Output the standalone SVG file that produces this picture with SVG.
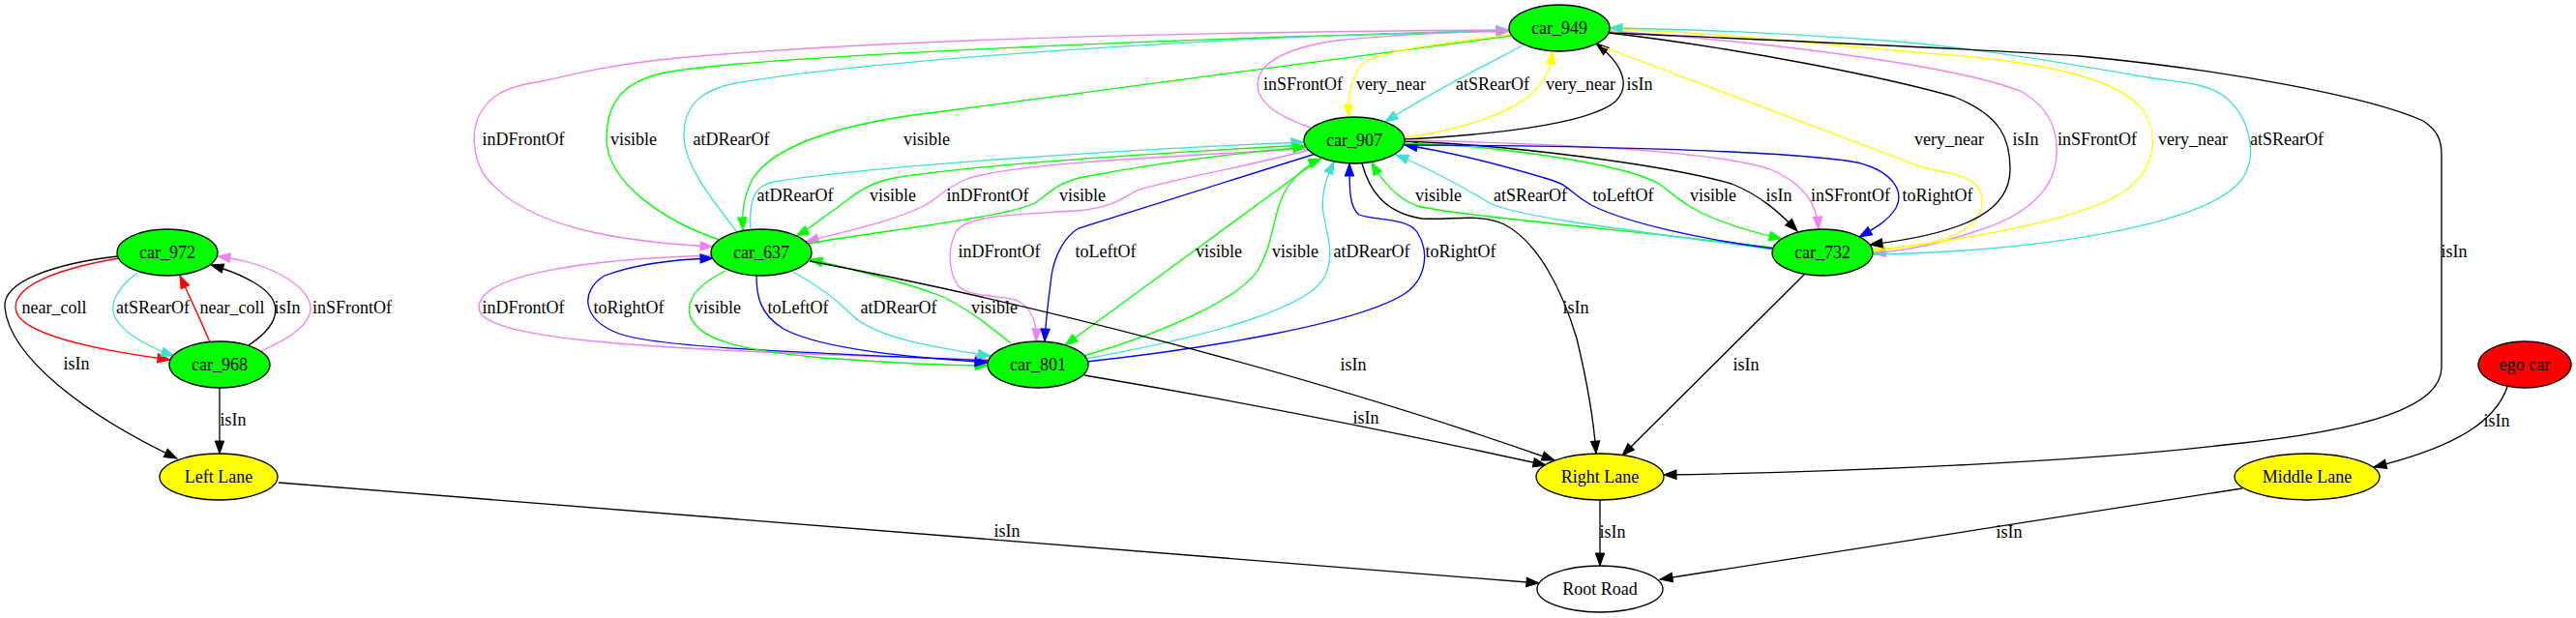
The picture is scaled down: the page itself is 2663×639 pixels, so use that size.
<svg xmlns="http://www.w3.org/2000/svg" width="2663" height="639" viewBox="0 0 2663 639">
<defs>
<style>
.e{fill:none;stroke-width:1.33}
.k{stroke:#000;marker-end:url(#ak)}
.g{stroke:#00ff00;marker-end:url(#ag)}
.c{stroke:#40e0d0;marker-end:url(#ac)}
.v{stroke:#ee82ee;marker-end:url(#av)}
.b{stroke:#0000ff;marker-end:url(#ab)}
.y{stroke:#ffff00;marker-end:url(#ay)}
.r{stroke:#ff0000;marker-end:url(#ar)}
.n{stroke:#000;stroke-width:1.33}
.t{font-family:"Liberation Serif","Times New Roman",Times,serif;font-size:18px;text-anchor:middle;fill:#000}
</style>
<marker id="ak" markerUnits="userSpaceOnUse" markerWidth="14" markerHeight="10" refX="13" refY="5" orient="auto" overflow="visible"><path d="M0,0.3 L13,5 L0,9.7 Z" fill="#000" stroke="#000"/></marker>
<marker id="ag" markerUnits="userSpaceOnUse" markerWidth="14" markerHeight="10" refX="13" refY="5" orient="auto" overflow="visible"><path d="M0,0.3 L13,5 L0,9.7 Z" fill="#00ff00" stroke="#00ff00"/></marker>
<marker id="ac" markerUnits="userSpaceOnUse" markerWidth="14" markerHeight="10" refX="13" refY="5" orient="auto" overflow="visible"><path d="M0,0.3 L13,5 L0,9.7 Z" fill="#40e0d0" stroke="#40e0d0"/></marker>
<marker id="av" markerUnits="userSpaceOnUse" markerWidth="14" markerHeight="10" refX="13" refY="5" orient="auto" overflow="visible"><path d="M0,0.3 L13,5 L0,9.7 Z" fill="#ee82ee" stroke="#ee82ee"/></marker>
<marker id="ab" markerUnits="userSpaceOnUse" markerWidth="14" markerHeight="10" refX="13" refY="5" orient="auto" overflow="visible"><path d="M0,0.3 L13,5 L0,9.7 Z" fill="#0000ff" stroke="#0000ff"/></marker>
<marker id="ay" markerUnits="userSpaceOnUse" markerWidth="14" markerHeight="10" refX="13" refY="5" orient="auto" overflow="visible"><path d="M0,0.3 L13,5 L0,9.7 Z" fill="#ffff00" stroke="#ffff00"/></marker>
<marker id="ar" markerUnits="userSpaceOnUse" markerWidth="14" markerHeight="10" refX="13" refY="5" orient="auto" overflow="visible"><path d="M0,0.3 L13,5 L0,9.7 Z" fill="#ff0000" stroke="#ff0000"/></marker>
</defs>
<rect width="2663" height="639" fill="#fff"/>
<g id="connectors">
<!-- left cluster -->
<path class="e r" d="M123,267 C70,276 16,292 16,318 C16,345 100,362 176,372"/>
<path class="e c" d="M142,282 C125,295 115,308 117,322 C120,340 150,358 180,368"/>
<path class="e r" d="M217,354 C208,332 195,305 186,285"/>
<path class="e k" d="M257,357 C275,345 288,330 284,315 C280,298 250,283 218,274"/>
<path class="e v" d="M270,363 C300,350 322,335 321,318 C319,295 280,272 225,265"/>
<path class="e k" d="M122,265 C60,272 2,290 5,318 C10,370 90,430 183,474"/>
<path class="e k" d="M227,401 L227,469"/>
<path class="e k" d="M288,499 L1591,603"/>
<!-- car_949 <-> car_637 -->
<path class="e v" d="M1560,31 C1200,33 900,42 700,60 C620,68 590,78 560,84 C520,90 505,100 495,120 C488,135 488,160 500,180 C540,235 640,250 737,255"/>
<path class="e g" d="M744,248 C690,230 627,190 627,143 C627,100 650,80 700,73 C800,58 1200,40 1560,32"/>
<path class="e c" d="M762,240 C735,205 707,170 707,140 C707,105 730,92 760,86 C900,62 1250,38 1560,31"/>
<path class="e g" d="M1562,37 C1350,65 1100,100 960,117 C870,128 800,150 778,185 C768,205 767,220 768,238"/>
<!-- car_907 <-> car_637 -->
<path class="e c" d="M776,238 C774,205 780,192 800,188 C900,172 1150,155 1348,147"/>
<path class="e g" d="M1349,150 C1200,158 1000,170 920,185 C890,192 880,205 865,215 C850,225 838,236 823,244"/>
<path class="e v" d="M1350,154 C1200,162 1040,170 1000,185 C975,195 970,205 955,213 C920,230 870,240 833,250"/>
<path class="e g" d="M835,252 C900,240 1040,225 1070,210 C1085,200 1090,190 1120,183 C1200,168 1280,158 1350,152"/>
<!-- car_907 <-> car_801 -->
<path class="e v" d="M1353,155 C1290,172 1200,188 1175,197 C1160,205 1150,215 1110,218 C1050,222 1000,222 988,240 C980,255 980,280 990,295 C1000,307 1030,305 1050,310 C1068,318 1072,335 1071,353"/>
<path class="e b" d="M1360,159 L1115,236 C1100,245 1090,265 1087,285 C1084,310 1081,330 1080,353"/>
<path class="e g" d="M1362,166 L1101,357"/>
<path class="e g" d="M1120,368 C1200,345 1280,310 1300,280 C1318,250 1315,220 1330,195 C1340,180 1352,170 1366,164"/>
<path class="e c" d="M1122,371 C1250,348 1355,318 1370,285 C1380,262 1372,245 1368,220 C1365,200 1372,182 1379,167"/>
<path class="e b" d="M1123,374 C1250,360 1400,335 1450,305 C1475,290 1478,260 1465,240 C1455,225 1420,228 1405,222 C1395,215 1395,195 1395,169"/>
<!-- car_637 <-> car_801 -->
<path class="e v" d="M737,264 C600,268 495,285 495,318 C495,350 650,362 1021,372"/>
<path class="e b" d="M1021,373 C850,365 680,360 640,345 C600,330 600,300 625,285 C660,272 700,268 737,267"/>
<path class="e g" d="M750,280 C720,295 710,310 713,325 C720,350 760,362 850,370 C920,375 980,378 1021,378"/>
<path class="e b" d="M782,285 C782,305 785,325 810,340 C850,362 950,370 1021,375"/>
<path class="e c" d="M818,280 C840,292 860,305 880,325 C905,350 970,360 1024,368"/>
<path class="e g" d="M1045,355 C1020,335 995,315 970,305 C930,290 880,278 837,268"/>
<!-- car_907 <-> car_949 -->
<path class="e v" d="M1355,132 C1320,120 1300,105 1300,88 C1300,65 1330,50 1380,42 C1450,35 1510,33 1560,32"/>
<path class="e y" d="M1561,36 C1490,45 1430,52 1410,65 C1396,77 1394,100 1394,121"/>
<path class="e c" d="M1574,47 C1540,65 1480,95 1432,126"/>
<path class="e y" d="M1452,142 C1510,135 1570,115 1590,90 C1600,78 1603,68 1605,53"/>
<path class="e k" d="M1452,144 C1530,140 1640,130 1670,105 C1685,90 1680,68 1650,45"/>
<!-- car_907 <-> car_732 -->
<path class="e g" d="M1833,256 C1700,240 1500,222 1465,213 C1445,205 1430,190 1418,168"/>
<path class="e c" d="M1833,258 C1700,240 1570,225 1540,210 C1515,195 1480,175 1443,160"/>
<path class="e b" d="M1834,257 C1760,248 1680,230 1645,212 C1620,198 1625,192 1600,185 C1550,170 1500,157 1452,150"/>
<path class="e g" d="M1452,148 C1550,150 1680,170 1715,190 C1735,205 1745,215 1770,225 C1795,235 1820,242 1842,247"/>
<path class="e k" d="M1452,146 C1560,150 1720,170 1790,190 C1820,202 1840,220 1858,239"/>
<path class="e v" d="M1452,145 C1600,148 1770,155 1830,175 C1865,190 1878,210 1880,237"/>
<path class="e b" d="M1452,150 C1600,150 1850,155 1920,168 C1960,178 1968,200 1960,215 C1952,228 1940,235 1922,245"/>
<!-- car_949 <-> car_732 -->
<path class="e y" d="M1656,48 L1985,172 C2010,180 2040,178 2048,200 C2055,225 2030,245 1990,252 C1970,255 1955,257 1936,258"/>
<path class="e k" d="M1663,34 C1800,50 1950,80 2020,100 C2070,120 2078,145 2078,175 C2078,215 2040,240 1933,253"/>
<path class="e v" d="M1663,32 C1850,45 2030,70 2090,95 C2120,112 2127,135 2126,160 C2124,200 2090,225 2040,240 C2010,250 1980,258 1936,262"/>
<path class="e y" d="M1935,260 C2050,245 2160,225 2200,195 C2232,170 2232,130 2210,108 C2180,78 2100,62 1990,55 C1880,45 1750,32 1664,30"/>
<path class="e c" d="M1936,263 C2100,260 2280,235 2318,185 C2335,160 2325,120 2300,100 C2280,85 2250,85 2220,80 C2150,68 2050,50 1950,42 C1850,35 1750,30 1664,29"/>
<!-- to lanes / road -->
<path class="e k" d="M1664,34 C1800,40 2000,48 2150,58 C2300,72 2450,100 2505,125 C2520,135 2524,145 2524,160 L2524,380 C2524,420 2450,445 2300,460 C2150,478 1900,488 1720,491"/>
<path class="e k" d="M1408,169 C1415,195 1430,220 1470,226 C1500,228 1530,220 1555,232 C1590,250 1615,300 1630,350 C1642,400 1648,440 1650,469"/>
<path class="e k" d="M1865,284 L1677,471"/>
<path class="e k" d="M837,270 C1050,310 1350,385 1607,476"/>
<path class="e k" d="M1121,388 C1300,418 1480,455 1598,481"/>
<path class="e k" d="M2592,400 C2580,435 2540,462 2454,483"/>
<path class="e k" d="M2318,505 L1716,599"/>
<path class="e k" d="M1654,517 L1654,585"/>
<!-- edge labels -->
<text class="t" x="56" y="324">near_coll</text>
<text class="t" x="158" y="324">atSRearOf</text>
<text class="t" x="240" y="324">near_coll</text>
<text class="t" x="297" y="324">isIn</text>
<text class="t" x="364" y="324">inSFrontOf</text>
<text class="t" x="79" y="382">isIn</text>
<text class="t" x="241" y="440">isIn</text>
<text class="t" x="541" y="150">inDFrontOf</text>
<text class="t" x="655" y="150">visible</text>
<text class="t" x="756" y="150">atDRearOf</text>
<text class="t" x="958" y="150">visible</text>
<text class="t" x="1347" y="93">inSFrontOf</text>
<text class="t" x="1438" y="93">very_near</text>
<text class="t" x="1543" y="93">atSRearOf</text>
<text class="t" x="1634" y="93">very_near</text>
<text class="t" x="1695" y="93">isIn</text>
<text class="t" x="2015" y="150">very_near</text>
<text class="t" x="2094" y="150">isIn</text>
<text class="t" x="2168" y="150">inSFrontOf</text>
<text class="t" x="2267" y="150">very_near</text>
<text class="t" x="2364" y="150">atSRearOf</text>
<text class="t" x="2537" y="266">isIn</text>
<text class="t" x="822" y="208">atDRearOf</text>
<text class="t" x="923" y="208">visible</text>
<text class="t" x="1021" y="208">inDFrontOf</text>
<text class="t" x="1119" y="208">visible</text>
<text class="t" x="1487" y="208">visible</text>
<text class="t" x="1582" y="208">atSRearOf</text>
<text class="t" x="1678" y="208">toLeftOf</text>
<text class="t" x="1771" y="208">visible</text>
<text class="t" x="1839" y="208">isIn</text>
<text class="t" x="1913" y="208">inSFrontOf</text>
<text class="t" x="2003" y="208">toRightOf</text>
<text class="t" x="1033" y="266">inDFrontOf</text>
<text class="t" x="1143" y="266">toLeftOf</text>
<text class="t" x="1260" y="266">visible</text>
<text class="t" x="1339" y="266">visible</text>
<text class="t" x="1418" y="266">atDRearOf</text>
<text class="t" x="1510" y="266">toRightOf</text>
<text class="t" x="541" y="324">inDFrontOf</text>
<text class="t" x="650" y="324">toRightOf</text>
<text class="t" x="742" y="324">visible</text>
<text class="t" x="825" y="324">toLeftOf</text>
<text class="t" x="929" y="324">atDRearOf</text>
<text class="t" x="1028" y="324">visible</text>
<text class="t" x="1629" y="324">isIn</text>
<text class="t" x="1805" y="383">isIn</text>
<text class="t" x="1399" y="383">isIn</text>
<text class="t" x="1412" y="438">isIn</text>
<text class="t" x="1041" y="555">isIn</text>
<text class="t" x="1667" y="556">isIn</text>
<text class="t" x="2077" y="556">isIn</text>
<text class="t" x="2581" y="441">isIn</text>
</g>
<g id="car_949"><ellipse class="n" cx="1612" cy="29" rx="52" ry="24" fill="#00ff00"/><text class="t" x="1612" y="35">car_949</text></g>
<g id="car_907"><ellipse class="n" cx="1400" cy="145" rx="52" ry="24" fill="#00ff00"/><text class="t" x="1400" y="151">car_907</text></g>
<g id="car_732"><ellipse class="n" cx="1884" cy="261" rx="52" ry="24" fill="#00ff00"/><text class="t" x="1884" y="267">car_732</text></g>
<g id="car_637"><ellipse class="n" cx="787" cy="261" rx="52" ry="24" fill="#00ff00"/><text class="t" x="787" y="267">car_637</text></g>
<g id="car_801"><ellipse class="n" cx="1073" cy="377" rx="52" ry="24" fill="#00ff00"/><text class="t" x="1073" y="383">car_801</text></g>
<g id="car_972"><ellipse class="n" cx="173" cy="261" rx="52" ry="24" fill="#00ff00"/><text class="t" x="173" y="267">car_972</text></g>
<g id="car_968"><ellipse class="n" cx="227" cy="377" rx="52" ry="24" fill="#00ff00"/><text class="t" x="227" y="383">car_968</text></g>
<g id="left_lane"><ellipse class="n" cx="226" cy="493" rx="61" ry="24" fill="#ffff00"/><text class="t" x="226" y="499">Left Lane</text></g>
<g id="right_lane"><ellipse class="n" cx="1654" cy="493" rx="66" ry="24" fill="#ffff00"/><text class="t" x="1654" y="499">Right Lane</text></g>
<g id="root_road"><ellipse class="n" cx="1654" cy="609" rx="65" ry="24" fill="#ffffff"/><text class="t" x="1654" y="615">Root Road</text></g>
<g id="middle_lane"><ellipse class="n" cx="2385" cy="493" rx="75" ry="24" fill="#ffff00"/><text class="t" x="2385" y="499">Middle Lane</text></g>
<g id="ego_car"><ellipse class="n" cx="2610" cy="377" rx="48" ry="24" fill="#ff0000"/><text class="t" x="2610" y="383">ego car</text></g>
</svg>
